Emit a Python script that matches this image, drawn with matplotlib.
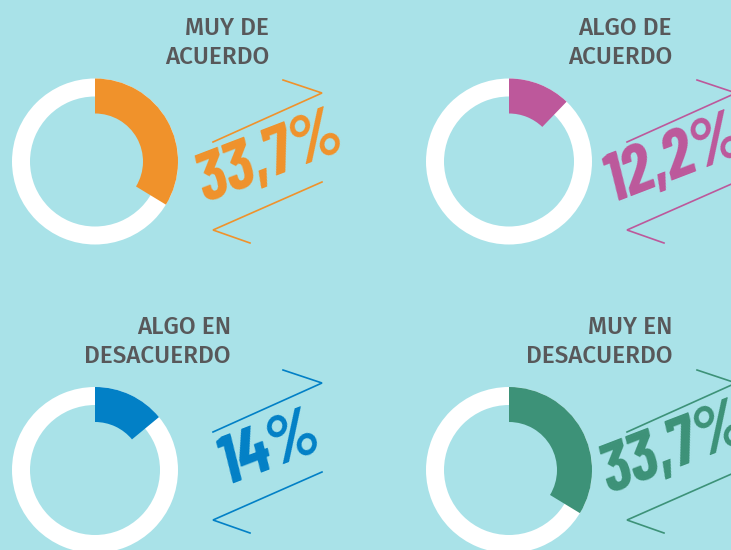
import matplotlib
matplotlib.use("Agg")
import matplotlib.pyplot as plt
from matplotlib.patches import Wedge

# data
labels = ["MUY DE\nACUERDO", "ALGO DE\nACUERDO", "ALGO EN\nDESACUERDO", "MUY EN\nDESACUERDO"]
values = [33.7, 12.2, 14.0, 33.7]
value_text = ["33,7%", "12,2%", "14%", "33,7%"]
colors = ["#f0922b", "#bd589b", "#0280c6", "#3d9278"]

bg = "#a9e2e8"
gray = "#58585a"
label_font = ["Fira Sans", "DejaVu Sans"]
pct_font = ["Barlow Condensed", "Saira Extra Condensed", "Oswald",
            "Fira Sans Extra Condensed", "DejaVu Sans"]

fig = plt.figure(figsize=(7.31, 5.50), dpi=100)
fig.patch.set_facecolor(bg)
ax = fig.add_axes([0, 0, 1, 1])
ax.set_xlim(0, 731)
ax.set_ylim(550, 0)
ax.axis("off")

# layout (pixel coords): column offset and row anchors
col_x = [0, 414]
row_y = [0, 299]
donut_cy = [161.5, 470]
chev_y = [0, 290]
text_cy = [159, 450]

for i in range(4):
    c, r = i % 2, i // 2
    ox = col_x[c]
    cx, cy = 95 + ox, donut_cy[r]
    # white ring
    ax.add_patch(Wedge((cx, cy), 83, 0, 360, width=18, facecolor="white", edgecolor="none"))
    # coloured share, clockwise from 12 o'clock (y axis inverted)
    ax.add_patch(Wedge((cx, cy), 83, -90, -90 + 360 * values[i] / 100, width=35,
                       facecolor=colors[i], edgecolor="none"))

    # label
    l1, l2 = labels[i].split("\n")
    lx = (269 if c == 0 else 258) + ox
    if r == 1 and c == 0:
        lx = 231
    ax.text(lx, 28 + row_y[r], l1, ha="right", va="center", color=gray,
            fontsize=17.5, fontweight=500, family=label_font)
    ax.text(lx, 57 + row_y[r], l2, ha="right", va="center", color=gray,
            fontsize=17.5, fontweight=500, family=label_font)

    # chevrons
    dy = chev_y[r]
    ax.plot([283 + ox, 322 + ox, 213 + ox], [80 + dy, 93 + dy, 142 + dy],
            color=colors[i], lw=1.2, solid_joinstyle="miter")
    ax.plot([322 + ox, 213 + ox, 250 + ox], [182 + dy, 230 + dy, 243 + dy],
            color=colors[i], lw=1.2, solid_joinstyle="miter")

    # percentage
    tx = 270 + ox - (10 if c == 1 else 0)
    ax.text(tx, text_cy[r], value_text[i], ha="center", va="center",
            rotation=21, rotation_mode="anchor", color=colors[i],
            fontsize=50, fontweight="bold", fontstyle="italic", family=pct_font)

fig.savefig("out.png", dpi=100, facecolor=bg)
